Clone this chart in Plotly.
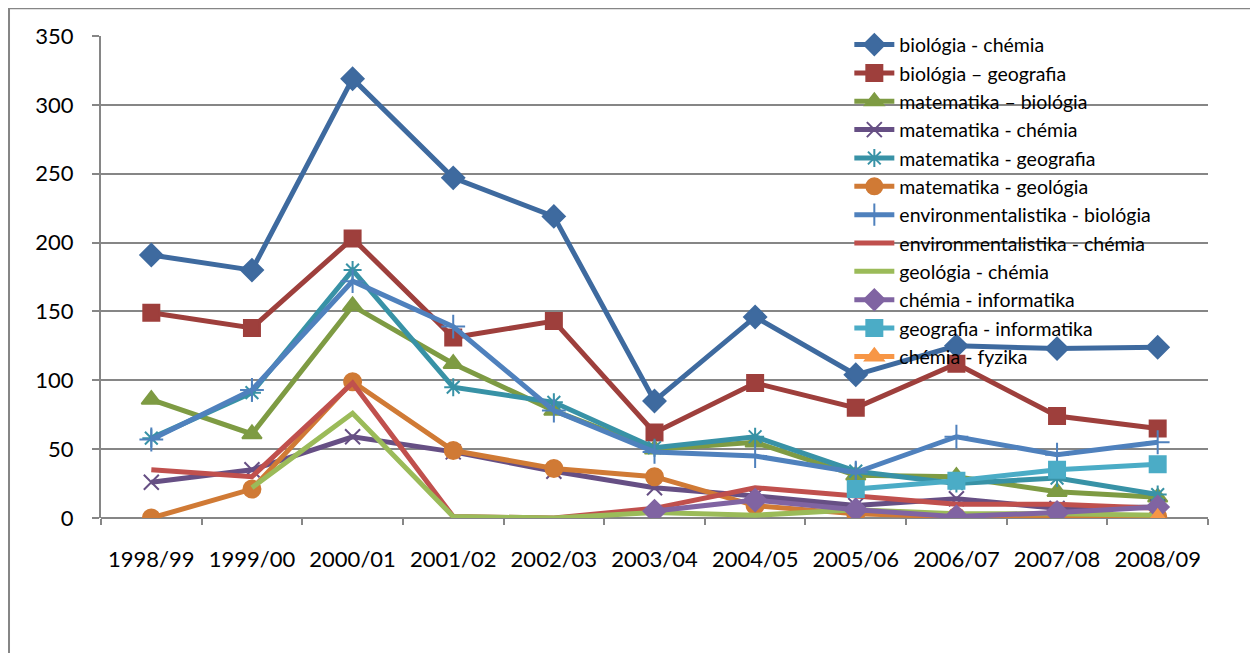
import plotly.graph_objects as go

years = ["1998/99", "1999/00", "2000/01", "2001/02", "2002/03", "2003/04",
         "2004/05", "2005/06", "2006/07", "2007/08", "2008/09"]

bio_chem = [191, 180, 319, 247, 219, 85, 146, 104, 125, 123, 124]
bio_geo = [149, 138, 203, 131, 143, 62, 98, 80, 112, 74, 65]
mat_bio = [86, 61, 154, 112, 78, 50, 55, 31, 30, 19, 15]
mat_chem = [26, 35, 59, 48, 34, 22, 16, 9, 14, 7, 8]
mat_geo = [58, 91, 180, 95, 84, 51, 59, 34, 25, 29, 17]
mat_geol = [0, 21, 99, 49, 36, 30, 9, 3, 1, 0, 1]
env_bio = [57, 93, 172, 139, 78, 48, 45, 33, 59, 46, 55]
env_chem = [35, 30, 98, 1, 0, 7, 22, 16, 10, 10, 7]
geol_chem = [None, 22, 76, 1, 0, 4, 2, 6, 3, 3, 2]
chem_inf = [None, None, None, None, None, 5, 13, 6, 1, 4, 8]
geo_inf = [None, None, None, None, None, None, None, 21, 27, 35, 39]
chem_fyz = [None, None, None, None, None, None, None, None, None, None, 0]

series = [
    ("biológia - chémia", bio_chem, "#3E6A9F", "diamond", 17),
    ("biológia – geografia", bio_geo, "#9E3F3C", "square", 16),
    ("matematika – biológia", mat_bio, "#7E9B43", "triangle-up", 17),
    ("matematika - chémia", mat_chem, "#664F84", "x-thin-open", 15),
    ("matematika - geografia", mat_geo, "#3892A6", "asterisk-open", 15),
    ("matematika - geológia", mat_geol, "#D07A35", "circle", 17),
    ("environmentalistika - biológia", env_bio, "#4F81BD", "cross-thin-open", 17),
    ("environmentalistika - chémia", env_chem, "#C0504D", None, 0),
    ("geológia - chémia", geol_chem, "#9BBB59", None, 0),
    ("chémia - informatika", chem_inf, "#8064A2", "diamond", 17),
    ("geografia - informatika", geo_inf, "#4BACC6", "square", 16),
    ("chémia - fyzika", chem_fyz, "#F79646", "triangle-up", 17),
]

fig = go.Figure()
for name, vals, color, sym, size in series:
    if sym is None:
        mode = "lines"
        marker = None
    else:
        mode = "lines+markers"
        marker = dict(symbol=sym, size=size, color=color,
                      line=dict(color=color, width=2))
    fig.add_trace(go.Scatter(
        x=years, y=vals, name=name, mode=mode,
        line=dict(color=color, width=5),
        marker=marker, connectgaps=False,
    ))

fig.update_layout(
    width=1250, height=645,
    margin=dict(l=93, r=50, t=28, b=135),
    paper_bgcolor="white", plot_bgcolor="white",
    font=dict(family="Lato, Noto Sans, sans-serif", size=22, color="black"),
    legend=dict(x=0.676, y=1.022, xanchor="left", yanchor="top",
                bgcolor="rgba(0,0,0,0)", font=dict(size=19.5),
                tracegroupgap=0, itemwidth=40, maxheight=600),
    showlegend=True,
)
fig.update_xaxes(
    type="category", range=[-0.5, 10.5], showgrid=False,
    showline=False, ticks="outside", tickson="boundaries",
    ticklen=6, tickcolor="#868686", tickwidth=2,
    tickfont=dict(size=22), ticklabelstandoff=26,
)
fig.update_yaxes(
    range=[0, 350], dtick=50, showgrid=True, gridcolor="#868686",
    gridwidth=2, showline=True, linecolor="#868686", linewidth=2,
    ticks="outside", ticklen=7, tickcolor="#868686", tickwidth=2,
    zeroline=True, zerolinecolor="#868686", zerolinewidth=2,
    tickfont=dict(size=22), ticklabelstandoff=14,
)
fig.add_shape(type="rect", xref="paper", yref="paper",
              x0=-0.0831, x1=1.0407, y0=-0.3, y1=1.0575,
              line=dict(color="#868686", width=2), layer="below")

fig.write_html("out.html")
